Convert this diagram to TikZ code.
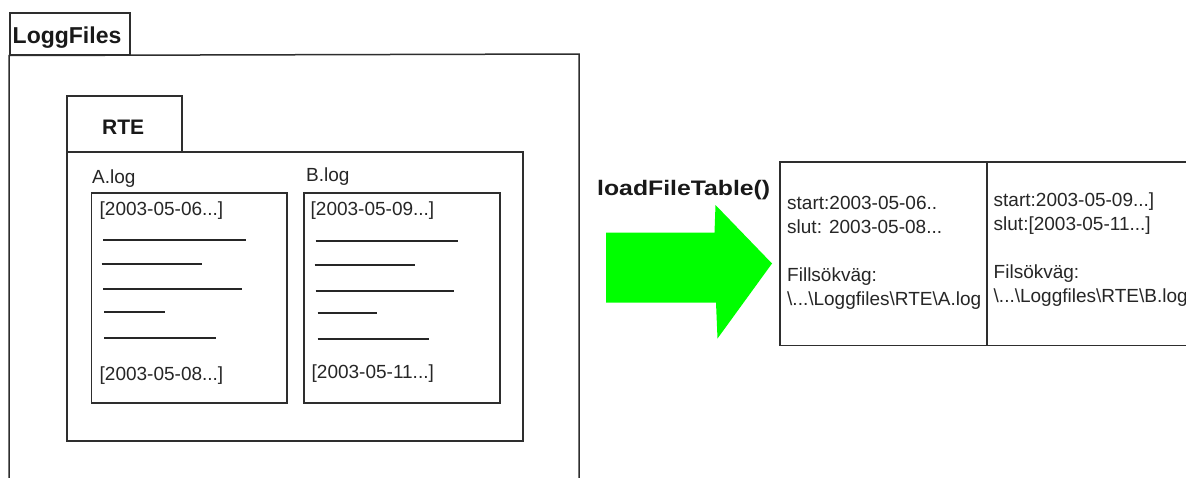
\documentclass[tikz,border=0pt]{standalone}
\usepackage{fontspec}
\setmainfont{Liberation Sans}
\definecolor{arrowgreen}{RGB}{0,255,0}
\tikzset{
  frame/.style={draw=black!82, line width=1.5pt},
  boxnode/.style={frame, rectangle, inner sep=0pt, anchor=north west},
  txt/.style={inner sep=0pt, anchor=base west, font=\fontsize{19}{19}\selectfont, text=black!85},
  headtxt/.style={inner sep=0pt, anchor=base west, text=black!90},
  textline/.style={draw=black!85, line width=2pt},
}
\begin{document}
\begin{tikzpicture}[x=1pt,y=-1pt]
\clip (0,0) rectangle (1186,477);
\fill[white] (0,0) rectangle (1186,477);

% LoggFiles package
\node[boxnode, minimum width=120pt, minimum height=42pt] (loggtab) at (9,12) {};
\node[headtxt, font=\bfseries\fontsize{23}{23}\selectfont] (loggtitle) at (12.5,43) {LoggFiles};
\coordinate (loggbl) at (9,490);
\coordinate (loggtr) at (579,54);
\coordinate (loggbr) at (579,490);
\draw[frame] (loggbl) -- (loggtab.south west) -- (loggtr) -- (loggbr);

% RTE package
\node[boxnode, minimum width=115pt, minimum height=56pt] (rtetab) at (66,95) {};
\node[headtxt, font=\bfseries\fontsize{21}{21}\selectfont] (rtetitle) at (102,134) {RTE};
\node[boxnode, minimum width=456pt, minimum height=289pt] (rteframe) at (66,151) {};

% A.log
\node[txt] (alabel) at (92,183) {A.log};
\node[boxnode, minimum width=195.5pt, minimum height=210pt] (abox) at (90.5,192) {};
\node[txt] (astart) at (99.5,215) {[2003-05-06...]};
\draw[textline] (103,240) -- (245.5,240);
\draw[textline] (101.5,264) -- (202,264);
\draw[textline] (103,289) -- (242,289);
\draw[textline] (104,312) -- (164.5,312);
\draw[textline] (104,338) -- (216,338);
\node[txt] (aend) at (99.5,380) {[2003-05-08...]};

% B.log
\node[txt] (blabel) at (306,181) {B.log};
\node[boxnode, minimum width=196pt, minimum height=210pt] (bbox) at (303,192) {};
\node[txt] (bstart) at (310.5,215) {[2003-05-09...]};
\draw[textline] (315.5,241) -- (458,241);
\draw[textline] (314.5,265) -- (414.5,265);
\draw[textline] (315.5,291) -- (454,291);
\draw[textline] (317.5,313) -- (377,313);
\draw[textline] (317.5,339) -- (429,339);
\node[txt] (bend) at (311.5,378.5) {[2003-05-11...]};

% operation label and arrow
\node[headtxt, font=\bfseries\fontsize{21}{21}\selectfont] (loadlabel) at (597,195) {\scalebox{1.18}[1]{loadFileTable()}};
\fill[arrowgreen] (606,232.5) -- (714.5,232.5) -- (715.5,205) -- (772,263.5) -- (717.5,338.5) -- (716,302.5) -- (606,302.5) -- cycle;

% file table
\node[boxnode, minimum width=430pt, minimum height=183.5pt] (filetable) at (779,161) {};
\coordinate (divtop) at (987,161);
\coordinate (divbot) at (987,344.5);
\draw[frame] (divtop) -- (divbot);

\node[txt] (ta1) at (787,209) {start:2003-05-06..};
\node[txt] (ta2) at (787,233) {slut: 2003-05-08...};
\node[txt] (ta3) at (787,281) {Fillsökväg:};
\node[txt] (ta4) at (787,305) {\textbackslash...\textbackslash Loggfiles\textbackslash RTE\textbackslash A.log};

\node[txt] (tb1) at (993.5,206) {start:2003-05-09...]};
\node[txt] (tb2) at (993.5,230) {slut:[2003-05-11...]};
\node[txt] (tb3) at (993.5,278) {Filsökväg:};
\node[txt] (tb4) at (993.5,302) {\textbackslash...\textbackslash Loggfiles\textbackslash RTE\textbackslash B.log};
\end{tikzpicture}
\end{document}
